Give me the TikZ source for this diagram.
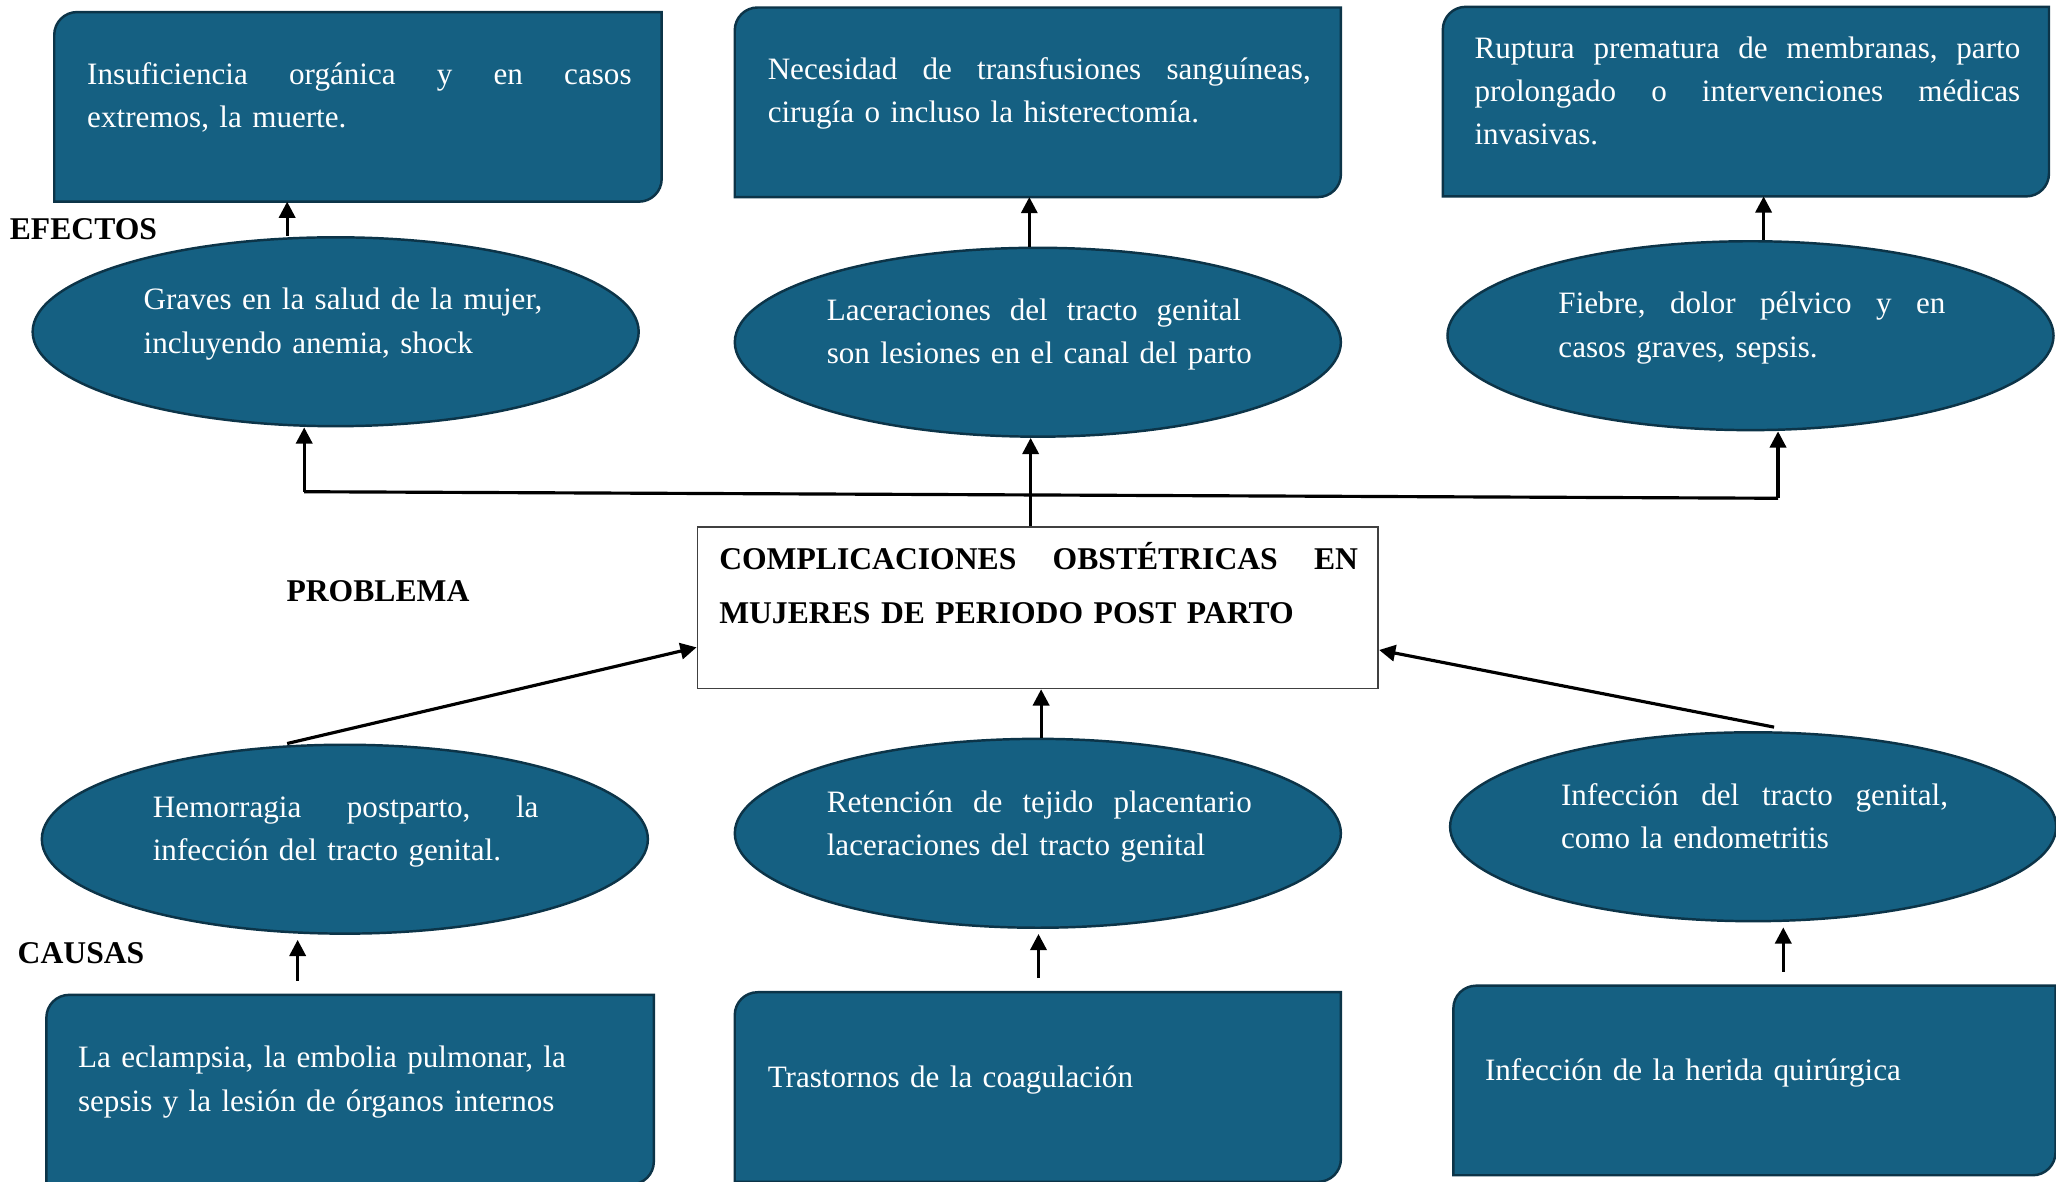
\documentclass[tikz,border=0pt]{standalone}
\usepackage{fontspec}
\setmainfont{Liberation Serif}
\usetikzlibrary{shapes.geometric,arrows.meta,calc}
\definecolor{acc}{HTML}{156082}
\definecolor{dk}{HTML}{0C3448}
\newcommand\jline[2]{\makebox[#1][l]{#2}}
\newcommand\gap{ \hfill }
\newcommand\fst{\rule{0pt}{7pt}}
\newcommand\cornerbox[1]{%
  \draw[boxshape] ([yshift=-6.5pt]#1.north west) .. controls ([yshift=-2.9pt]#1.north west) and ([xshift=2.9pt]#1.north west) .. ([xshift=6.5pt]#1.north west)
    -- (#1.north east) -- ([yshift=6.5pt]#1.south east) .. controls ([yshift=2.9pt]#1.south east) and ([xshift=-2.9pt]#1.south east) .. ([xshift=-6.5pt]#1.south east)
    -- (#1.south west) -- cycle;}
\begin{document}
\begin{tikzpicture}[x=0.013112cm,y=-0.013112cm,
  ell/.style={ellipse,fill=acc,draw=dk,line width=0.7pt,minimum width=6.058cm,minimum height=1.888cm,inner sep=0},
  boxn/.style={rectangle,inner sep=0,minimum width=6.058cm,minimum height=1.881cm},
  boxshape/.style={fill=acc,draw=dk,line width=0.7pt},
  txt/.style={anchor=north west,inner sep=0,align=left,text=white,font=\fontsize{8.85}{12.3}\selectfont},
  lab/.style={anchor=west,inner sep=0,font=\fontsize{9}{11}\selectfont\bfseries},
  arr/.style={line width=0.9pt,-{Triangle[length=4.6pt,width=4.6pt]}},
  con/.style={line width=0.9pt}]
\useasboundingbox (0,0) rectangle (1568,901);

% effect boxes
\node[boxn] (t1) at (273,81.5) {};
\node[boxn,minimum width=6.045cm] (t2) at (791.5,78) {};
\node[boxn,minimum width=6.045cm] (t3) at (1331.5,77.5) {};
\cornerbox{t1}\cornerbox{t2}\cornerbox{t3}

% cause boxes
\node[boxn] (b1) at (267,831) {};
\node[boxn,minimum width=6.045cm] (b2) at (791.5,829) {};
\node[boxn,minimum width=6.005cm] (b3) at (1338,824) {};
\cornerbox{b1}\cornerbox{b2}\cornerbox{b3}

% ellipses
\node[ell] (e1) at (256,253) {};
\node[ell] (e2) at (791.5,261) {};
\node[ell] (e3) at (1335,256) {};
\node[ell] (c1) at (263,640) {};
\node[ell] (c2) at (791.5,635.5) {};
\node[ell] (c3) at (1337,630.5) {};

% problem box
\node[draw=black!75,line width=0.5pt,fill=white,minimum width=6.805cm,minimum height=1.613cm,inner sep=0] (prob) at (791.5,463.5) {};

% texts
\node[txt,text width=6cm] (tx1) at (66,45) {\fst\jline{5.441cm}{Insuficiencia\gap orgánica\gap y\gap en\gap casos}\\extremos, la muerte.};
\node[txt,text width=6cm] (tx2) at (585,41) {\fst\jline{5.428cm}{Necesidad\gap de\gap transfusiones\gap sanguíneas,}\\cirugía o incluso la histerectomía.};
\node[txt,text width=6cm] (tx3) at (1124,25) {\fst\jline{5.455cm}{Ruptura\gap prematura\gap de\gap membranas,\gap parto}\\\jline{5.455cm}{prolongado\gap o\gap intervenciones\gap médicas}\\invasivas.};

\node[txt,text width=5cm] (te1) at (109,217) {\fst Graves en la salud de la mujer,\\incluyendo anemia, shock};
\node[txt,text width=5cm] (te2) at (630,225) {\fst\jline{4.143cm}{Laceraciones\gap del\gap tracto\gap genital}\\son lesiones en el canal del parto};
\node[txt,text width=5cm] (te3) at (1188,220) {\fst\jline{3.868cm}{Fiebre,\gap dolor\gap pélvico\gap y\gap en}\\casos graves, sepsis.};

\node[txt,text width=5cm] (tc1) at (116,604) {\fst\jline{3.855cm}{Hemorragia\gap postparto,\gap la}\\infección del tracto genital.};
\node[txt,text width=5cm] (tc2) at (630,600) {\fst\jline{4.248cm}{Retención\gap de\gap tejido\gap placentario}\\laceraciones del tracto genital};
\node[txt,text width=5cm] (tc3) at (1190,595) {\fst\jline{3.868cm}{Infección\gap del\gap tracto\gap genital,}\\como la endometritis};

\node[txt,text width=5.8cm] (tb1) at (59,795) {\fst La eclampsia, la embolia pulmonar, la\\sepsis y la lesión de órganos internos};
\node[txt,text width=5.8cm] (tb2) at (585,810) {\fst Trastornos de la coagulación};
\node[txt,text width=5.8cm] (tb3) at (1132,805) {\fst Infección de la herida quirúrgica};

\node[txt,text=black,text width=6.6cm,font=\fontsize{9}{15.3}\selectfont\bfseries] (title) at (548,411)
  {\rule{0pt}{8.5pt}\jline{6.386cm}{COMPLICACIONES\gap OBSTÉTRICAS\gap EN}\\MUJERES DE PERIODO POST PARTO};

% labels
\node[lab] (lef) at (7,175) {EFECTOS};
\node[lab] (lpr) at (218,451) {PROBLEMA};
\node[lab] (lca) at (13,727) {CAUSAS};

% connectors: ellipses to effect boxes
\coordinate (p1) at ($(e1.north)+(-37,0)$);
\coordinate (p2) at ($(e2.north)+(-6.5,0)$);
\coordinate (p3) at ($(e3.north)+(10,0)$);
\draw[arr] (p1) -- (p1 |- t1.south);
\draw[arr] (p2) -- (p2 |- t2.south);
\draw[arr] (p3) -- (p3 |- t3.south);

% problem to effects
\coordinate (q0) at ($(prob.north)+(-5.5,0)$);
\draw[arr] (q0) -- (q0 |- e2.south);
\coordinate (hl) at (232,375);
\coordinate (hr) at (1356,380);
\draw[con] (hl) -- (hr);
\draw[arr] (hl) -- (hl |- e1.south);
\draw[arr] (hr) -- (hr |- e3.south);

% causes to problem
\coordinate (r1) at ($(c1.north)+(-44,0)$);
\coordinate (s1) at ($(prob.south west)+(0,-32)$);
\draw[arr] (r1) -- (s1);
\coordinate (r2) at ($(c2.north)+(2.5,0)$);
\draw[arr] (r2) -- (r2 |- prob.south);
\coordinate (r3) at ($(c3.north)+(16,-3)$);
\coordinate (s3) at ($(prob.south east)+(0,-30)$);
\draw[arr] (r3) -- (s3);

% cause boxes to ellipses
\coordinate (u1) at ($(b1.north)+(-40,0)$);
\coordinate (u2) at ($(b2.north)+(0.5,0)$);
\coordinate (u3) at ($(b3.north)+(22,0)$);
\draw[arr,shorten <=0.14cm,shorten >=0.05cm] (u1) -- (u1 |- c1.south);
\draw[arr,shorten <=0.14cm,shorten >=0.05cm] (u2) -- (u2 |- c2.south);
\draw[arr,shorten <=0.14cm,shorten >=0.05cm] (u3) -- (u3 |- c3.south);
\end{tikzpicture}
\end{document}
